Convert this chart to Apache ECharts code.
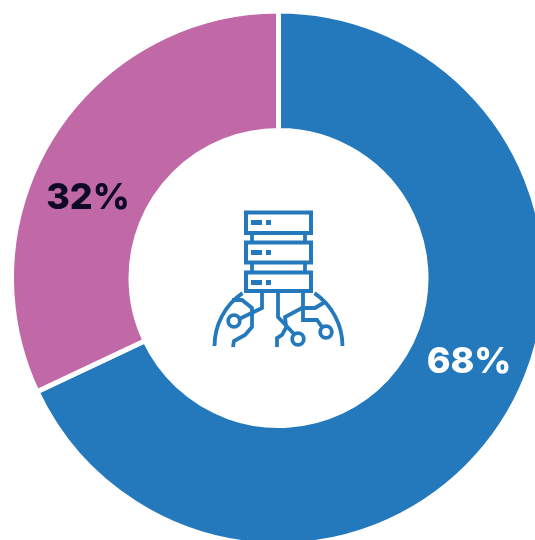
<!DOCTYPE html>
<html>
<head>
<meta charset="utf-8">
<style>
  html, body { margin: 0; padding: 0; background: #fff; }
  #chart { width: 535px; height: 540px; }
</style>
<script src="https://cdn.jsdelivr.net/npm/echarts@6/dist/echarts.min.js"></script>
</head>
<body>
<div id="chart"></div>
<script>
var sliceNames = ['A', 'B'];
var sliceValues = [68, 32];
var sliceColors = ['#2479bd', '#c069a6'];
var labelColors = ['#ffffff', '#0e0a26'];
var labelOffsets = [[13, -28], [-13, 33]];

var iconColor = '#2479bd';

// icon in the hole, purely decorative
function iconLine(points, w) {
    return { type: 'polyline', shape: { points: points }, style: { fill: null, stroke: iconColor, lineWidth: w || 3.8 } };
}
function iconArc(start, end) {
    return { type: 'arc', shape: { cx: 278.5, cy: 346, r: 64, startAngle: start, endAngle: end, clockwise: true }, style: { fill: null, stroke: iconColor, lineWidth: 3.8 } };
}
function iconRect(x, y, w, h) {
    return { type: 'rect', shape: { x: x, y: y, width: w, height: h }, style: { fill: '#fff', stroke: iconColor, lineWidth: 4 } };
}
function iconDot(x, y) {
    return { type: 'circle', shape: { cx: x, cy: y, r: 5.8 }, style: { fill: '#fff', stroke: iconColor, lineWidth: 3.8 } };
}
function iconBar(x, y, w) {
    return { type: 'rect', shape: { x: x, y: y, width: w, height: 5 }, style: { fill: iconColor } };
}

var iconParts = [
    iconArc(Math.PI, Math.PI * 1.31),
    iconArc(Math.PI * 1.69, Math.PI * 2),
    iconLine([[232, 300], [242, 300], [252, 308], [252, 327], [245, 335], [234, 341], [233, 347]]),
    iconLine([[239, 319], [262, 308], [262, 293]]),
    iconLine([[278, 293], [278, 317], [294, 334]]),
    iconLine([[287, 326], [282, 335], [277, 338], [277, 347]]),
    iconLine([[286, 326], [285, 317], [302, 308], [315, 308], [325, 302]]),
    iconLine([[303, 293], [303, 320], [317, 320], [322, 327]]),
    iconDot(234, 321),
    iconDot(298, 339),
    iconDot(326, 332),
    iconLine([[252, 233], [252, 242]]),
    iconLine([[305, 233], [305, 242]]),
    iconLine([[252, 263], [252, 272]]),
    iconLine([[305, 263], [305, 272]]),
    iconRect(246, 212.5, 65, 20.5),
    iconRect(246, 242.5, 65, 20),
    iconRect(246, 272.5, 65, 18.5),
    iconBar(251, 220, 11), iconBar(266, 220, 5),
    iconBar(251, 250, 11), iconBar(266, 250, 5),
    iconBar(251, 280, 11), iconBar(266, 280, 5)
];

var chart = echarts.init(document.getElementById('chart'), null, { renderer: 'canvas' });
chart.setOption({
    animation: false,
    backgroundColor: '#fff',
    tooltip: { show: false },
    legend: { show: false },
    graphic: { elements: [{ type: 'group', silent: true, children: iconParts }] },
    series: [{
        type: 'pie',
        center: [278.5, 278],
        radius: [147.5, 267],
        startAngle: 90,
        clockwise: true,
        silent: true,
        itemStyle: { borderColor: '#fff', borderWidth: 5 },
        labelLine: { show: false },
        data: sliceValues.map(function (v, i) {
            return {
                name: sliceNames[i],
                value: v,
                itemStyle: { color: sliceColors[i] },
                label: {
                    show: true,
                    position: 'inside',
                    formatter: '{c}%',
                    offset: labelOffsets[i],
                    color: labelColors[i],
                    fontFamily: 'Inter',
                    fontWeight: 800,
                    fontSize: 36,
                    textBorderWidth: 0
                }
            };
        })
    }]
});
</script>
</body>
</html>
